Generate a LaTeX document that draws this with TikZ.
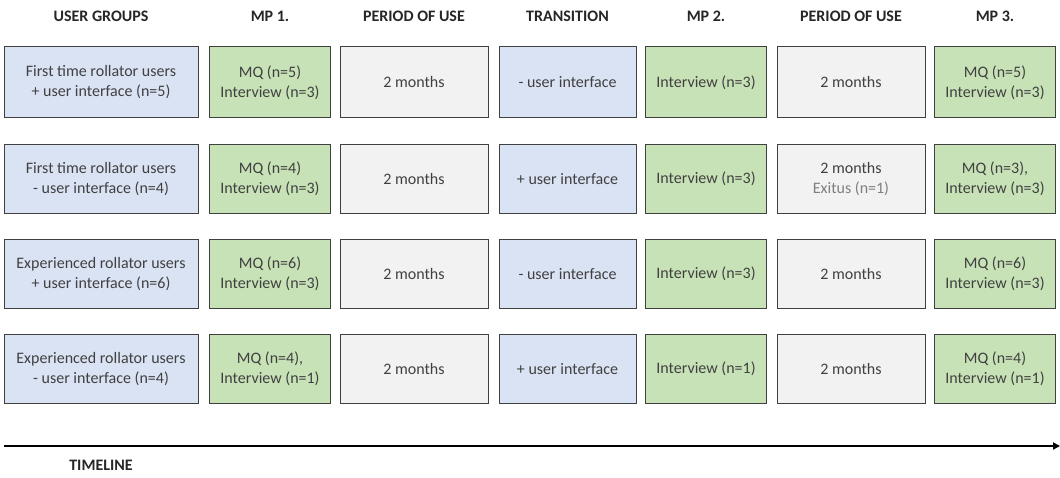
\documentclass[tikz,border=0pt]{standalone}
\usepackage{fontspec}
\setmainfont{Carlito}
\usetikzlibrary{arrows.meta}
\definecolor{bluefill}{HTML}{DAE3F3}
\definecolor{greenfill}{HTML}{C8E2B7}
\definecolor{greyfill}{HTML}{F2F2F2}
\definecolor{edge}{HTML}{404040}
\definecolor{txt}{HTML}{404040}
\definecolor{lighttxt}{HTML}{7F7F7F}
\tikzset{
  box/.style={draw=edge, line width=1pt, minimum height=69pt, inner sep=0pt, align=center,
    text=txt, font=\fontsize{16}{20}\selectfont},
  bluebox/.style={box, fill=bluefill},
  greenbox/.style={box, fill=greenfill},
  greybox/.style={box, fill=greyfill},
  head/.style={font=\fontsize{16}{19}\selectfont\bfseries, text=black!85, inner sep=0pt},
  wA/.style={minimum width=194pt},
  wB/.style={minimum width=121.5pt},
  wC/.style={minimum width=148pt},
  wD/.style={minimum width=137pt},
}
\begin{document}
\begin{tikzpicture}[x=1pt,y=-1pt]
\useasboundingbox (0,0) rectangle (1060,478);
% column centres
\def\cA{101}\def\cB{270}\def\cC{414}\def\cD{567.5}\def\cE{706}\def\cF{851}\def\cG{995}
% headers
\node[head] (h1) at (\cA,16) {USER GROUPS};
\node[head] (h2) at (\cB,16) {MP 1.};
\node[head] (h3) at (\cC,16) {PERIOD OF USE};
\node[head] (h4) at (\cD,16) {TRANSITION};
\node[head] (h5) at (\cE,16) {MP 2.};
\node[head] (h6) at (\cF,16) {PERIOD OF USE};
\node[head] (h7) at (\cG,16) {MP 3.};
% row 1
\node[bluebox,wA,minimum height=71pt] (r1c1) at (\cA,82.5) {First time rollator users\\+ user interface (n=5)};
\node[greenbox,wB,minimum height=71pt] (r1c2) at (\cB,82.5) {MQ (n=5)\\Interview (n=3)};
\node[greybox,wC,minimum height=71pt] (r1c3) at (\cC,82.5) {2 months};
\node[bluebox,wD,minimum height=71pt] (r1c4) at (\cD,82.5) {- user interface};
\node[greenbox,wB,minimum height=71pt] (r1c5) at (\cE,82.5) {Interview (n=3)};
\node[greybox,wC,minimum height=71pt] (r1c6) at (\cF,82.5) {2 months};
\node[greenbox,wB,minimum height=71pt] (r1c7) at (\cG,82.5) {MQ (n=5)\\Interview (n=3)};
% row 2
\node[bluebox,wA] (r2c1) at (\cA,179) {First time rollator users\\- user interface (n=4)};
\node[greenbox,wB] (r2c2) at (\cB,179) {MQ (n=4)\\Interview (n=3)};
\node[greybox,wC] (r2c3) at (\cC,179) {2 months};
\node[bluebox,wD] (r2c4) at (\cD,179) {+ user interface};
\node[greenbox,wB] (r2c5) at (\cE,179) {Interview (n=3)};
\node[greybox,wC] (r2c6) at (\cF,179) {2 months\\\textcolor{lighttxt}{Exitus (n=1)}};
\node[greenbox,wB] (r2c7) at (\cG,179) {MQ (n=3),\\Interview (n=3)};
% row 3
\node[bluebox,wA] (r3c1) at (\cA,274) {Experienced rollator users\\+ user interface (n=6)};
\node[greenbox,wB] (r3c2) at (\cB,274) {MQ (n=6)\\Interview (n=3)};
\node[greybox,wC] (r3c3) at (\cC,274) {2 months};
\node[bluebox,wD] (r3c4) at (\cD,274) {- user interface};
\node[greenbox,wB] (r3c5) at (\cE,274) {Interview (n=3)};
\node[greybox,wC] (r3c6) at (\cF,274) {2 months};
\node[greenbox,wB] (r3c7) at (\cG,274) {MQ (n=6)\\Interview (n=3)};
% row 4
\node[bluebox,wA] (r4c1) at (\cA,369) {Experienced rollator users\\- user interface (n=4)};
\node[greenbox,wB] (r4c2) at (\cB,369) {MQ (n=4),\\Interview (n=1)};
\node[greybox,wC] (r4c3) at (\cC,369) {2 months};
\node[bluebox,wD] (r4c4) at (\cD,369) {+ user interface};
\node[greenbox,wB] (r4c5) at (\cE,369) {Interview (n=1)};
\node[greybox,wC] (r4c6) at (\cF,369) {2 months};
\node[greenbox,wB] (r4c7) at (\cG,369) {MQ (n=4)\\Interview (n=1)};
% timeline
\coordinate (tl0) at (4,446);
\coordinate (tl1) at (1060,446);
\draw[line width=1.8pt, -{Triangle[length=7pt,width=7pt]}] (tl0) -- (tl1);
\node[head] (tl) at (101,465) {TIMELINE};
\end{tikzpicture}
\end{document}
